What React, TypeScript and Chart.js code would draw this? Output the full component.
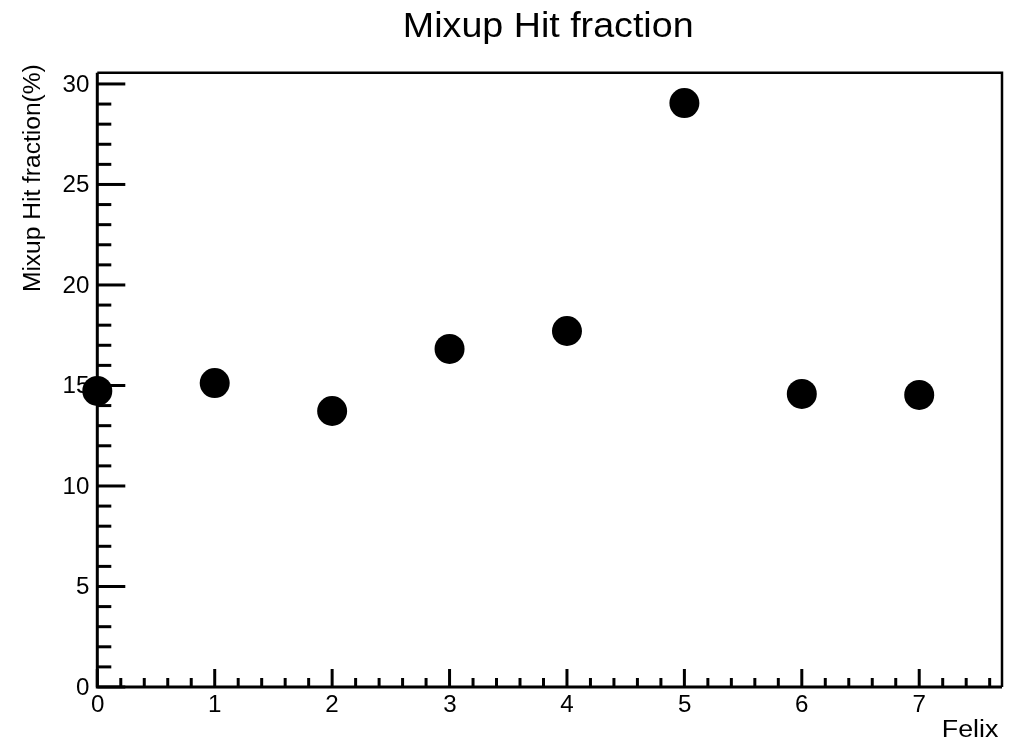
import React, { useEffect, useRef } from "react";
import { Chart, registerables } from "chart.js";

Chart.register(...registerables);

const felixIds = [0, 1, 2, 3, 4, 5, 6, 7];
const hitFraction = [14.73, 15.12, 13.73, 16.82, 17.71, 29.05, 14.58, 14.53];
const xTickValues = [0, 1, 2, 3, 4, 5, 6, 7];
const yTickValues = [0, 5, 10, 15, 20, 25, 30];
const chartTitle = "Mixup Hit fraction";
const xTitle = "Felix";
const yTitle = "Mixup Hit fraction(%)";

const X_MIN = 0;
const X_MAX = 7.705;
const Y_MIN = 0;
const Y_MAX = 30.56;
const FONT = "'Liberation Sans', Arial, sans-serif";
const LABEL_SIZE = 23;
const LABEL_SX = 1.05;

function fitText(ctx: CanvasRenderingContext2D, text: string, size: number, length: number) {
  ctx.font = `${size}px ${FONT}`;
  ctx.textAlign = "left";
  ctx.textBaseline = "alphabetic";
  const m = ctx.measureText(text);
  const ink = m.actualBoundingBoxLeft + m.actualBoundingBoxRight;
  const sx = length / ink;
  ctx.scale(sx, 1);
  ctx.fillText(text, m.actualBoundingBoxLeft, 0);
}

function labelText(ctx: CanvasRenderingContext2D, text: string, x: number, y: number, align: "right" | "center") {
  ctx.save();
  ctx.font = `${LABEL_SIZE}px ${FONT}`;
  ctx.textAlign = "left";
  ctx.textBaseline = "alphabetic";
  const m = ctx.measureText(text);
  ctx.translate(x, y);
  ctx.scale(LABEL_SX, 1);
  if (align === "right") {
    ctx.fillText(text, -m.actualBoundingBoxRight, 0);
  } else {
    ctx.fillText(text, -(m.actualBoundingBoxRight - m.actualBoundingBoxLeft) / 2, 0);
  }
  ctx.restore();
}

const rootFrame = {
  id: "rootFrame",
  beforeDatasetsDraw(chart: any) {
    const { ctx, chartArea, scales } = chart;
    const { left, right, top, bottom } = chartArea;
    const x = scales.x;
    const y = scales.y;
    ctx.save();
    ctx.strokeStyle = "#000";
    ctx.lineCap = "butt";
    const line = (x1: number, y1: number, x2: number, y2: number) => {
      ctx.beginPath();
      ctx.moveTo(x1, y1);
      ctx.lineTo(x2, y2);
      ctx.stroke();
    };
    ctx.lineWidth = 2.5;
    ctx.beginPath();
    ctx.moveTo(left, top);
    ctx.lineTo(right, top);
    ctx.lineTo(right, bottom);
    ctx.stroke();
    ctx.lineWidth = 3;
    ctx.beginPath();
    ctx.moveTo(left, top);
    ctx.lineTo(left, bottom);
    ctx.lineTo(right, bottom);
    ctx.stroke();
    // y ticks: major every 5, minor every 1
    for (let i = 0; i <= 30; i++) {
      const p = y.getPixelForValue(i);
      line(left, p, left + (i % 5 === 0 ? 28 : 14), p);
    }
    // x ticks: major every 1, minor every 0.2
    for (let i = 0; i * 0.2 <= X_MAX + 1e-6; i++) {
      const p = x.getPixelForValue(i * 0.2);
      line(p, bottom, p, bottom - (i % 5 === 0 ? 18 : 9));
    }
    // tick labels
    ctx.fillStyle = "#000";
    yTickValues.forEach((v) => {
      labelText(ctx, String(v), 88.5, y.getPixelForValue(v) + 8, "right");
    });
    xTickValues.forEach((v) => {
      labelText(ctx, String(v), x.getPixelForValue(v), 712, "center");
    });
    ctx.restore();
  },
  afterDraw(chart: any) {
    const { ctx } = chart;
    ctx.fillStyle = "#000";
    ctx.save();
    ctx.translate(405, 37);
    fitText(ctx, chartTitle, 35, 287);
    ctx.restore();
    ctx.save();
    ctx.translate(943, 737);
    fitText(ctx, xTitle, 23, 56);
    ctx.restore();
    ctx.save();
    ctx.translate(40, 291);
    ctx.rotate(-Math.PI / 2);
    fitText(ctx, yTitle, 23, 226);
    ctx.restore();
  },
};

export default function App() {
  const ref = useRef<HTMLCanvasElement | null>(null);
  useEffect(() => {
    if (!ref.current) return;
    const chart = new Chart(ref.current, {
      type: "scatter",
      data: {
        datasets: [
          {
            data: felixIds.map((f, i) => ({ x: f, y: hitFraction[i] })),
            backgroundColor: "#000",
            borderWidth: 0,
            pointRadius: 15,
            pointHoverRadius: 15,
            clip: false as any,
          },
        ],
      },
      options: {
        responsive: false,
        animation: false,
        events: [],
        layout: { padding: { left: 0, right: 14.3, top: 72.7, bottom: 0 } },
        plugins: { legend: { display: false }, title: { display: false }, tooltip: { enabled: false } },
        scales: {
          x: {
            type: "linear",
            min: X_MIN,
            max: X_MAX,
            border: { display: false },
            grid: { display: false, drawTicks: false },
            ticks: { display: false },
            afterFit: (s: any) => {
              s.height = 742 - 687;
            },
          },
          y: {
            type: "linear",
            min: Y_MIN,
            max: Y_MAX,
            border: { display: false },
            grid: { display: false, drawTicks: false },
            ticks: { display: false },
            afterFit: (s: any) => {
              s.width = 97.3;
            },
          },
        },
      },
      plugins: [rootFrame],
    });
    return () => chart.destroy();
  }, []);
  return (
    <div style={{ position: "absolute", left: 0, top: 0, width: 1017, height: 742, background: "#fff" }}>
      <canvas ref={ref} width={1017} height={742} style={{ width: 1017, height: 742 }} />
    </div>
  );
}
